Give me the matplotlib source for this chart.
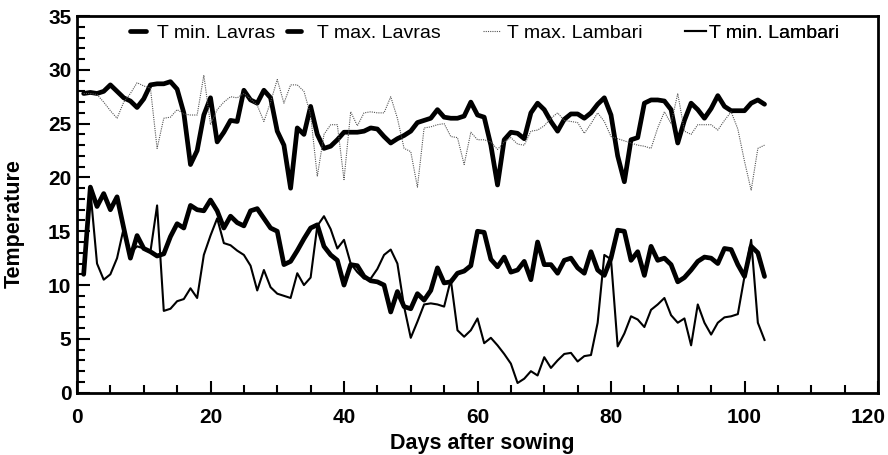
import numpy as np
import matplotlib
matplotlib.use("Agg")
import matplotlib.pyplot as plt
import matplotlib.transforms as mtransforms
from matplotlib.ticker import MultipleLocator

plt.rcParams['font.family'] = ['Liberation Sans', 'DejaVu Sans']

# ---- data ----
tmax_lavras = [27.8, 27.9, 27.8, 28.0, 28.6, 28.0, 27.4, 27.1, 26.5, 27.3,
               28.6, 28.7, 28.7, 28.9, 28.2, 26.0, 21.2, 22.5, 25.8, 27.4,
               23.3, 24.2, 25.3, 25.2, 28.1, 27.2, 26.9, 28.1, 27.4, 24.3,
               23.0, 19.0, 24.6, 24.0, 26.6, 24.0, 22.7, 22.9, 23.5, 24.2,
               24.2, 24.2, 24.3, 24.6, 24.5, 23.8, 23.2, 23.6, 23.9, 24.3,
               25.1, 25.3, 25.5, 26.3, 25.6, 25.5, 25.5, 25.7, 27.0, 25.8,
               25.6, 23.0, 19.3, 23.5, 24.2, 24.1, 23.6, 26.0, 26.9, 26.3,
               25.2, 24.3, 25.4, 25.9, 25.9, 25.5, 26.0, 26.8, 27.4, 25.8,
               22.0, 19.6, 23.5, 23.7, 26.9, 27.2, 27.2, 27.1, 26.3, 23.2,
               25.3, 26.9, 26.3, 25.5, 26.4, 27.6, 26.6, 26.2, 26.2, 26.2,
               26.9, 27.2, 26.8]
tmax_lambari = [27.8, 27.8, 27.7, 27.0, 26.2, 25.5, 27.0, 27.8, 28.8, 28.5,
                28.3, 22.7, 25.5, 25.6, 26.3, 25.9, 25.8, 25.8, 29.5, 24.9,
                26.3, 27.0, 27.5, 27.4, 27.8, 27.3, 26.7, 25.2, 27.0, 29.1,
                26.9, 28.6, 28.6, 28.0, 25.8, 20.1, 24.0, 24.9, 24.9, 19.8,
                26.1, 24.8, 26.0, 26.1, 26.0, 26.0, 27.5, 25.5, 22.7, 22.4,
                19.1, 24.6, 24.7, 24.9, 25.0, 23.8, 23.7, 21.2, 24.2, 23.5,
                23.5, 23.3, 22.6, 23.3, 23.7, 23.1, 23.0, 24.3, 24.4, 24.8,
                25.5, 26.0, 25.3, 25.2, 25.1, 24.1, 25.0, 26.0, 25.2, 23.8,
                23.6, 23.4, 23.2, 23.0, 22.9, 22.7, 24.6, 26.1, 25.0, 27.8,
                24.3, 24.0, 24.9, 24.9, 24.9, 24.4, 25.3, 26.1, 24.5, 21.5,
                18.8, 22.7, 23.0]
tmin_lavras = [11.0, 19.1, 17.3, 18.5, 17.0, 18.2, 15.3, 12.5, 14.6, 13.4,
               13.1, 12.7, 12.9, 14.5, 15.7, 15.3, 17.4, 17.0, 16.9, 17.9,
               16.9, 15.3, 16.4, 15.8, 15.5, 16.9, 17.1, 16.2, 15.3, 15.0,
               11.9, 12.2, 13.2, 14.3, 15.3, 15.6, 13.6, 12.8, 12.3, 10.0,
               11.9, 11.8, 10.8, 10.4, 10.3, 10.0, 7.5, 9.4, 8.0, 7.8,
               9.2, 8.6, 9.5, 11.6, 10.2, 10.3, 11.1, 11.3, 11.8, 15.0,
               14.9, 12.4, 11.7, 12.6, 11.2, 11.4, 12.2, 10.5, 14.0, 11.9,
               11.9, 11.1, 12.3, 12.5, 11.6, 11.1, 13.1, 11.4, 10.9, 12.5,
               15.1, 15.0, 12.3, 13.1, 10.9, 13.6, 12.3, 12.5, 11.9, 10.3,
               10.7, 11.4, 12.2, 12.6, 12.5, 12.0, 13.4, 13.3, 11.9, 10.8,
               13.6, 13.0, 10.8]
tmin_lambari = [18.8, 12.0, 10.5, 11.0, 12.5, 15.3, 13.0, 13.6, 13.4, 13.1,
                17.4, 7.6, 7.8, 8.5, 8.7, 9.7, 8.8, 12.8, 14.6, 16.2,
                13.9, 13.7, 13.2, 12.8, 11.8, 9.5, 11.4, 9.8, 9.2, 9.0,
                8.8, 11.1, 10.0, 10.7, 15.5, 16.4, 15.2, 13.4, 14.2, 12.0,
                11.2, 10.6, 10.6, 11.5, 12.8, 13.3, 12.0, 8.0, 5.1, 6.6,
                8.2, 8.3, 8.2, 8.0, 10.5, 5.8, 5.2, 5.8, 6.9, 4.6,
                5.1, 4.4, 3.6, 2.7, 0.9, 1.3, 2.0, 1.6, 3.3, 2.3,
                3.0, 3.6, 3.7, 2.9, 3.4, 3.5, 6.5, 12.8, 12.4, 4.3,
                5.5, 7.1, 6.8, 6.1, 7.7, 8.2, 8.8, 7.2, 6.5, 6.9,
                4.4, 8.2, 6.5, 5.4, 6.5, 7.0, 7.1, 7.3, 10.8, 14.2,
                6.5, 4.9]

days_tmax_lavras = np.arange(1, 1 + len(tmax_lavras))
days_tmax_lambari = np.arange(1, 1 + len(tmax_lambari))
days_tmin_lavras = np.arange(1, 1 + len(tmin_lavras))
days_tmin_lambari = np.arange(2, 2 + len(tmin_lambari))

labels = ["T min. Lavras", "T max. Lavras", "T max. Lambari", "T min. Lambari"]
x_ticks = [0, 20, 40, 60, 80, 100, 120]

fig = plt.figure(figsize=(8.88, 4.55), dpi=100)
ax = fig.add_axes([77 / 888, (455 - 392.7) / 455, 801 / 888, 376.7 / 455])

thick = dict(color='black', lw=3.4, solid_joinstyle='round', solid_capstyle='round')
l1, = ax.plot(days_tmin_lavras, tmin_lavras, **thick)
l2, = ax.plot(days_tmax_lavras, tmax_lavras, **thick)
l3, = ax.plot(days_tmax_lambari, tmax_lambari, color='#555555', lw=0.8,
              linestyle=(0, (1, 1)))
l4, = ax.plot(days_tmin_lambari, tmin_lambari, color='black', lw=1.5,
              solid_joinstyle='round')

ax.set_xlim(0, 120)
ax.set_ylim(0, 35)
ax.set_xticks(x_ticks)
ax.set_xticklabels([str(t) for t in x_ticks])
ax.xaxis.set_minor_locator(MultipleLocator(5))
ax.yaxis.set_major_locator(MultipleLocator(5))
ax.yaxis.set_minor_locator(MultipleLocator(1))
ax.tick_params(which='major', direction='in', length=9, width=1.5,
               labelsize=15)
ax.tick_params(which='minor', direction='in', length=5.5, width=1.5)
ax.tick_params(axis='x', which='major', pad=11)
ax.tick_params(axis='y', which='major', pad=4)
for lab in ax.get_xticklabels() + ax.get_yticklabels():
    lab.set_fontweight('bold')
for s in ax.spines.values():
    s.set_linewidth(2.0)

# shift the "120" tick label slightly left, as in the reference
off = mtransforms.ScaledTranslation(-10 / 100, 0, fig.dpi_scale_trans)
for lab in ax.get_xticklabels():
    if lab.get_text() == '120':
        lab.set_transform(lab.get_transform() + off)

ax.set_xlabel("Days after sowing", fontsize=15.5, fontweight='bold')
ax.set_ylabel("Temperature", fontsize=15.5, fontweight='bold')
ax.xaxis.set_label_coords(0.506, -0.107)
ax.yaxis.set_label_coords(-0.065, 0.449)

# legend: one single-entry legend per item, placed as in the reference
handles = [l1, l2, l3, l4]
anchors_x = [0.066, 0.262, 0.507, 0.759]
hlen = [0.85, 0.75, 0.85, 1.1]
hpad = [0.55, 0.8, 0.4, 0.15]
for h, lab, xa, hl, hp in zip(handles, labels, anchors_x, hlen, hpad):
    lg = ax.legend([h], [lab], loc='center left', bbox_to_anchor=(xa, 0.955),
                   frameon=False, fontsize=14, handlelength=hl,
                   handletextpad=hp, borderpad=0, borderaxespad=0)
    ax.add_artist(lg)

fig.savefig("out.png", dpi=100)
